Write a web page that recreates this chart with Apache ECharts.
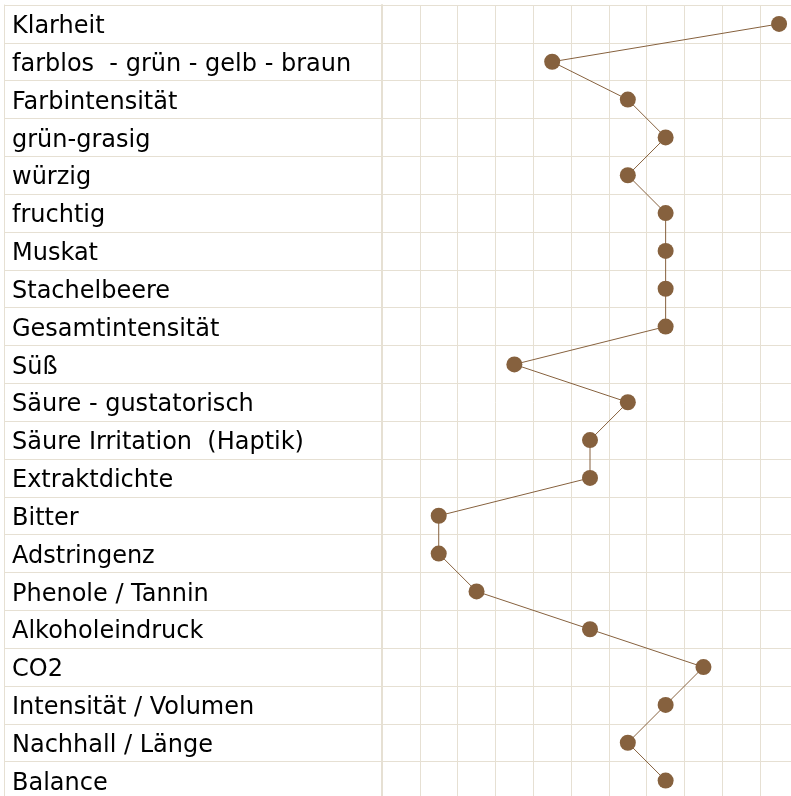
<!DOCTYPE html>
<html>
<head>
<meta charset="utf-8">
<script src="https://cdn.jsdelivr.net/npm/echarts@6/dist/echarts.min.js"></script>
<style>html,body{margin:0;padding:0;background:#fff;overflow:hidden;width:791px;height:796px}#c{width:800px;height:800px}</style>
</head>
<body>
<div id="c"></div>
<script>
var attributes = ['Klarheit','farblos  - grün - gelb - braun','Farbintensität','grün-grasig','würzig','fruchtig','Muskat','Stachelbeere','Gesamtintensität','Süß','Säure - gustatorisch','Säure Irritation  (Haptik)','Extraktdichte','Bitter','Adstringenz','Phenole / Tannin','Alkoholeindruck','CO2','Intensität / Volumen','Nachhall / Länge','Balance'];
var scale = ['0','1','2','3','4','5','6','7','8','9','10'];
var scores = [10,4,6,7,6,7,7,7,7,3,6,5,5,1,1,2,5,8,7,6,7];

var gridColor = '#e6e0d3';
var brown = '#86613e';
var chart = echarts.init(document.getElementById('c'));
chart.setOption({
  animation: false,
  grid: [
    {left: 382, top: 5, width: 416, height: 794.5, containLabel: false},
    {left: 4, top: 5, width: 378, height: 794.5, containLabel: false}
  ],
  xAxis: [
    {gridIndex: 0, type: 'category', data: scale, boundaryGap: true, position: 'top',
     axisLine: {show: false}, axisTick: {show: false}, axisLabel: {show: false},
     splitLine: {show: true, lineStyle: {color: gridColor, width: 1}}},
    {gridIndex: 1, type: 'value', min: 0, max: 1, show: false}
  ],
  yAxis: [
    {gridIndex: 0, type: 'category', data: attributes, inverse: true, boundaryGap: true,
     axisLine: {show: true, lineStyle: {color: gridColor, width: 2}},
     axisTick: {show: false},
     axisLabel: {show: true, align: 'left', verticalAlign: 'middle', margin: 370,
       formatter: function (v) { return '{t|' + v + '}'; },
       rich: {t: {color: '#000', fontFamily: 'DejaVu Sans', fontSize: 24, padding: [6, 0, 0, 0]}}},
     splitLine: {show: true, lineStyle: {color: gridColor, width: 1}}},
    {gridIndex: 1, type: 'category', data: attributes, inverse: true, boundaryGap: true,
     axisLine: {show: true, lineStyle: {color: gridColor, width: 1}},
     axisTick: {show: false}, axisLabel: {show: false},
     splitLine: {show: true, lineStyle: {color: gridColor, width: 1}}}
  ],
  series: [{
    type: 'line', xAxisIndex: 0, yAxisIndex: 0,
    data: scores.map(function(v, i){ return [v, i]; }),
    symbol: 'circle', symbolSize: 16,
    lineStyle: {color: brown, width: 1},
    itemStyle: {color: brown},
    z: 5
  }]
});
</script>
</body>
</html>
